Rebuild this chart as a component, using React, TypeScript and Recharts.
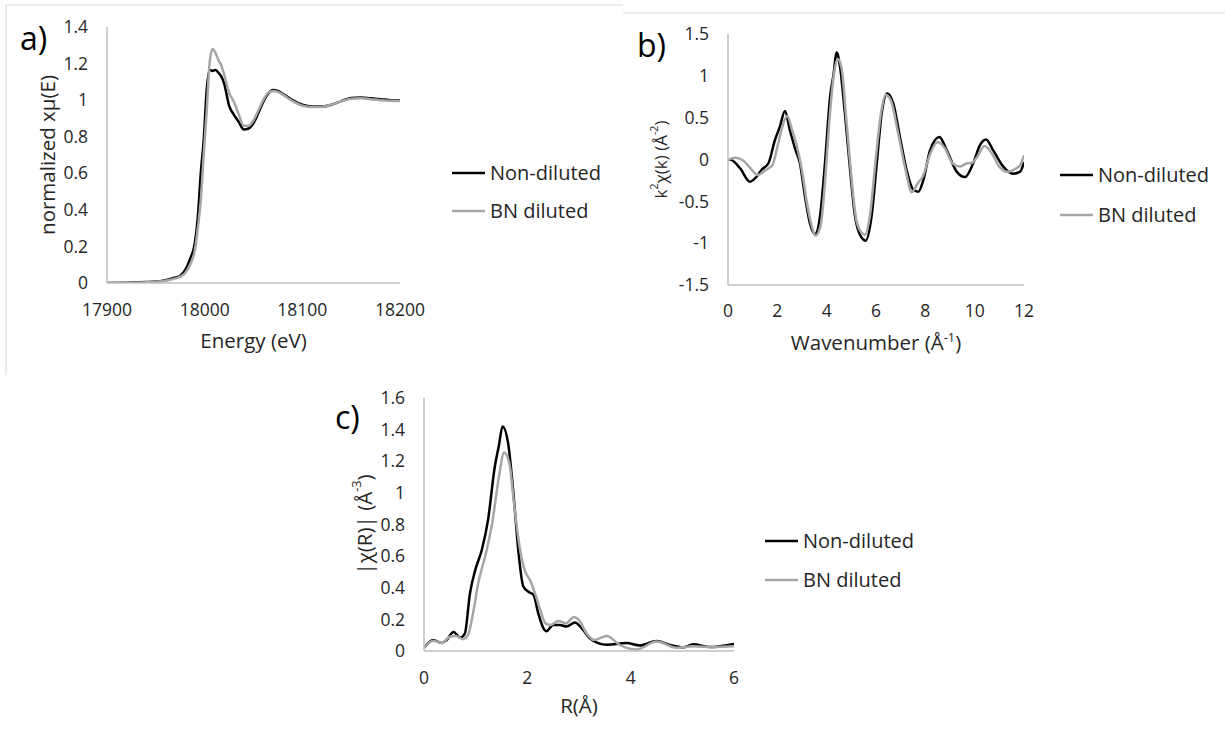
import React from 'react';
import { LineChart, Line, XAxis, YAxis, Label } from 'recharts';

const FONT = "'Open Sans', 'Noto Sans', sans-serif";
const INK = '#262626';
const AXIS = '#bfbfbf';
const FRAME = '#d9d9d9';
const BLACK = '#000000';
const GREY = '#a6a6a6';

// a) XANES, normalized absorption vs energy
const A_ENERGY = [17900, 17920, 17940, 17950, 17960, 17970, 17975, 17980, 17985, 17990, 17993, 17996, 17999, 18002, 18005, 18008, 18011, 18014, 18017, 18020, 18025, 18030, 18035, 18040, 18045, 18050, 18055, 18060, 18065, 18070, 18075, 18080, 18090, 18100, 18110, 18120, 18130, 18140, 18150, 18160, 18170, 18180, 18190, 18200];
const A_NON_DILUTED = [0, 0.002, 0.005, 0.008, 0.015, 0.03, 0.04, 0.07, 0.13, 0.22, 0.36, 0.6, 0.78, 1.05, 1.165, 1.16, 1.165, 1.15, 1.13, 1.09, 0.97, 0.92, 0.88, 0.84, 0.845, 0.875, 0.93, 0.99, 1.035, 1.055, 1.05, 1.035, 1.0, 0.975, 0.965, 0.965, 0.975, 0.995, 1.012, 1.015, 1.01, 1.005, 1.0, 0.998];
const A_BN_DILUTED = [0, 0.001, 0.004, 0.007, 0.012, 0.025, 0.035, 0.055, 0.1, 0.18, 0.3, 0.45, 0.7, 0.93, 1.2, 1.28, 1.26, 1.22, 1.19, 1.14, 1.04, 0.99, 0.92, 0.86, 0.86, 0.89, 0.945, 1.0, 1.04, 1.05, 1.045, 1.03, 0.995, 0.97, 0.962, 0.963, 0.975, 0.995, 1.008, 1.01, 1.005, 1.0, 0.997, 0.995];
const A_X_TICKS = [17900, 18000, 18100, 18200];
const A_Y_TICKS = [0, 0.2, 0.4, 0.6, 0.8, 1, 1.2, 1.4];

// b) EXAFS, k^2 weighted
const B_K_NON = [0, 0.08, 0.49, 0.89, 1.16, 1.37, 1.64, 1.9, 2.1, 2.31, 2.51, 2.72, 2.92, 3.12, 3.32, 3.53, 3.73, 3.93, 4.14, 4.27, 4.41, 4.54, 4.74, 4.95, 5.15, 5.35, 5.58, 5.82, 6.03, 6.23, 6.46, 6.7, 6.97, 7.24, 7.51, 7.72, 7.92, 8.19, 8.57, 8.87, 9.27, 9.61, 9.94, 10.21, 10.46, 10.75, 11.16, 11.56, 11.84, 12];
const B_NON_DILUTED = [0, 0, -0.105, -0.265, -0.205, -0.12, -0.045, 0.23, 0.39, 0.58, 0.35, 0.13, -0.05, -0.44, -0.76, -0.89, -0.68, -0.05, 0.75, 1.0, 1.28, 1.11, 0.55, -0.125, -0.68, -0.9, -0.97, -0.68, -0.05, 0.55, 0.79, 0.67, 0.27, -0.125, -0.36, -0.385, -0.245, 0.11, 0.27, 0.11, -0.145, -0.21, -0.045, 0.17, 0.24, 0.11, -0.085, -0.17, -0.145, -0.03];
const B_K_BN = [0, 0.3, 0.6, 0.9, 1.2, 1.5, 1.8, 2.0, 2.2, 2.4, 2.6, 2.8, 3.0, 3.2, 3.4, 3.55, 3.75, 3.95, 4.1, 4.3, 4.45, 4.6, 4.8, 5.0, 5.2, 5.4, 5.55, 5.75, 6.0, 6.2, 6.4, 6.6, 6.9, 7.2, 7.45, 7.7, 7.9, 8.2, 8.5, 8.8, 9.1, 9.4, 9.7, 9.9, 10.1, 10.4, 10.7, 11.0, 11.3, 11.6, 11.85, 12];
const B_BN_DILUTED = [0, 0.02, -0.01, -0.1, -0.185, -0.13, -0.07, 0.15, 0.39, 0.52, 0.35, 0.15, -0.13, -0.52, -0.8, -0.91, -0.8, -0.2, 0.43, 1.03, 1.2, 1.1, 0.47, -0.2, -0.72, -0.87, -0.9, -0.68, 0.035, 0.55, 0.77, 0.71, 0.31, -0.125, -0.39, -0.28, -0.2, 0.07, 0.21, 0.13, -0.045, -0.085, -0.045, -0.04, 0.03, 0.16, 0.07, -0.085, -0.145, -0.12, -0.065, 0.05];
const B_X_TICKS = [0, 2, 4, 6, 8, 10, 12];
const B_Y_TICKS = [-1.5, -1, -0.5, 0, 0.5, 1, 1.5];

// c) Fourier transform magnitude
const C_R_NON = [0, 0.18, 0.34, 0.44, 0.57, 0.7, 0.79, 0.89, 0.99, 1.12, 1.24, 1.37, 1.45, 1.52, 1.63, 1.73, 1.83, 1.92, 2.02, 2.12, 2.21, 2.31, 2.37, 2.5, 2.63, 2.76, 2.92, 3.05, 3.21, 3.37, 3.54, 3.92, 4.18, 4.5, 4.76, 5.02, 5.21, 5.54, 6];
const C_NON_DILUTED = [0.02, 0.07, 0.05, 0.07, 0.12, 0.085, 0.11, 0.365, 0.51, 0.64, 0.83, 1.165, 1.3, 1.42, 1.31, 1.0, 0.62, 0.41, 0.375, 0.355, 0.24, 0.145, 0.125, 0.165, 0.165, 0.155, 0.18, 0.145, 0.08, 0.05, 0.04, 0.05, 0.035, 0.063, 0.038, 0.023, 0.042, 0.025, 0.045];
const C_R_BN = [0, 0.18, 0.34, 0.5, 0.62, 0.75, 0.85, 0.95, 1.05, 1.2, 1.32, 1.45, 1.55, 1.65, 1.75, 1.85, 1.95, 2.05, 2.15, 2.25, 2.35, 2.45, 2.6, 2.75, 2.9, 3.0, 3.15, 3.3, 3.54, 3.79, 4.12, 4.5, 4.89, 5.21, 5.6, 6];
const C_BN_DILUTED = [0.02, 0.065, 0.05, 0.09, 0.095, 0.075, 0.1, 0.24, 0.43, 0.62, 0.81, 1.1, 1.255, 1.19, 0.91, 0.66, 0.51, 0.45, 0.365, 0.26, 0.175, 0.165, 0.19, 0.175, 0.215, 0.195, 0.11, 0.07, 0.095, 0.038, 0.01, 0.06, 0.02, 0.03, 0.025, 0.03];
const C_X_TICKS = [0, 2, 4, 6];
const C_Y_TICKS = [0, 0.2, 0.4, 0.6, 0.8, 1, 1.2, 1.4, 1.6];

const SERIES_NAMES = ['Non-diluted', 'BN diluted'];

const pts = (xs: number[], ys: number[]) => xs.map((x, i) => ({ x, y: ys[i] }));

type Part = { t: string; sup?: boolean };

const Rich = ({ parts, size }: { parts: Part[]; size: number }) => (
  <>
    {parts.map((p, i) => {
      const prevSup = i > 0 && parts[i - 1].sup;
      const dy = p.sup ? -size * 0.38 : prevSup ? size * 0.38 : 0;
      return (
        <tspan key={i} dy={dy} fontSize={p.sup ? size * 0.62 : size}>
          {p.t}
        </tspan>
      );
    })}
  </>
);

const TITLE_SIZE = 20.5;
const TICK_SIZE = 17.5;

const xTitle = (parts: Part[], offset: number) => (props: any) => {
  const { x, y, width } = props.viewBox;
  return (
    <text x={x + width / 2} y={y + offset} textAnchor="middle" fill={INK} fontFamily={FONT} fontSize={TITLE_SIZE}>
      <Rich parts={parts} size={TITLE_SIZE} />
    </text>
  );
};

const yTitle = (parts: Part[], offset: number, size: number) => (props: any) => {
  const { x, y, width, height } = props.viewBox;
  const cx = x + width - offset;
  const cy = y + height / 2;
  return (
    <text
      x={cx}
      y={cy}
      transform={`rotate(-90 ${cx} ${cy})`}
      textAnchor="middle"
      dominantBaseline="central"
      fill={INK}
      fontFamily={FONT}
      fontSize={size}
    >
      <Rich parts={parts} size={size} />
    </text>
  );
};

type PanelProps = {
  left: number;
  top: number;
  width: number;
  height: number;
  margin: { top: number; right: number; bottom: number; left: number };
  xDomain: [number, number];
  xTicks: number[];
  yDomain: [number, number];
  yTicks: number[];
  non: { x: number; y: number }[];
  bn: { x: number; y: number }[];
  xLabel: Part[];
  yLabel: Part[];
  xTickMargin: number;
  xTitleOffset: number;
  yTitleOffset: number;
  yTitleSize?: number;
};

const Panel = (p: PanelProps) => (
  <div style={{ position: 'absolute', left: p.left, top: p.top }}>
    <LineChart width={p.width} height={p.height} margin={p.margin}>
      <XAxis
        type="number"
        dataKey="x"
        domain={p.xDomain}
        ticks={p.xTicks}
        interval={0}
        allowDataOverflow
        height={40}
        tickLine={false}
        tickMargin={p.xTickMargin}
        axisLine={{ stroke: AXIS, strokeWidth: 1.5 }}
        tick={{ fill: INK, fontSize: TICK_SIZE, fontFamily: FONT }}
      >
        <Label content={xTitle(p.xLabel, p.xTitleOffset)} />
      </XAxis>
      <YAxis
        type="number"
        dataKey="y"
        domain={p.yDomain}
        ticks={p.yTicks}
        interval={0}
        allowDataOverflow
        width={60}
        tickLine={false}
        tickMargin={13}
        axisLine={{ stroke: AXIS, strokeWidth: 1.5 }}
        tick={{ fill: INK, fontSize: TICK_SIZE, fontFamily: FONT }}
      >
        <Label content={yTitle(p.yLabel, p.yTitleOffset, p.yTitleSize ?? TITLE_SIZE)} />
      </YAxis>
      <Line data={p.non} dataKey="y" name={SERIES_NAMES[0]} type="monotone" stroke={BLACK} strokeWidth={2.5} dot={false} isAnimationActive={false} />
      <Line data={p.bn} dataKey="y" name={SERIES_NAMES[1]} type="monotone" stroke={GREY} strokeWidth={2.5} dot={false} isAnimationActive={false} />
    </LineChart>
  </div>
);

const LegendRows = ({ x, y1, y2 }: { x: number; y1: number; y2: number }) => (
  <g fontFamily={FONT} fontSize={20} fill={INK}>
    <line x1={x} x2={x + 33} y1={y1} y2={y1} stroke={BLACK} strokeWidth={2.5} />
    <text x={x + 38} y={y1 + 7}>{SERIES_NAMES[0]}</text>
    <line x1={x} x2={x + 33} y1={y2} y2={y2} stroke={GREY} strokeWidth={2.5} />
    <text x={x + 38} y={y2 + 7}>{SERIES_NAMES[1]}</text>
  </g>
);

export default function App() {
  return (
    <div style={{ position: 'absolute', left: 0, top: 0, width: 1225, height: 729, background: '#fff', overflow: 'hidden' }}>
      <Panel
        left={0}
        top={0}
        width={560}
        height={380}
        margin={{ top: 27, right: 160, bottom: 57, left: 47 }}
        xDomain={[17900, 18200]}
        xTicks={A_X_TICKS}
        yDomain={[0, 1.4]}
        yTicks={A_Y_TICKS}
        non={pts(A_ENERGY, A_NON_DILUTED)}
        bn={pts(A_ENERGY, A_BN_DILUTED)}
        xLabel={[{ t: 'Energy (eV)' }]}
        yLabel={[{ t: 'normalized xμ(E)' }]}
        xTickMargin={15}
        xTitleOffset={65}
        yTitleOffset={60}
      />
      <Panel
        left={560}
        top={0}
        width={665}
        height={380}
        margin={{ top: 34, right: 201, bottom: 55, left: 108 }}
        xDomain={[0, 12]}
        xTicks={B_X_TICKS}
        yDomain={[-1.5, 1.5]}
        yTicks={B_Y_TICKS}
        non={pts(B_K_NON, B_NON_DILUTED)}
        bn={pts(B_K_BN, B_BN_DILUTED)}
        xLabel={[{ t: 'Wavenumber (Å' }, { t: '-1', sup: true }, { t: ')' }]}
        yLabel={[{ t: 'k' }, { t: '2', sup: true }, { t: 'χ(k) (Å' }, { t: '-2', sup: true }, { t: ')' }]}
        xTickMargin={14}
        xTitleOffset={65}
        yTitleOffset={68}
        yTitleSize={17}
      />
      <Panel
        left={300}
        top={370}
        width={600}
        height={359}
        margin={{ top: 28, right: 166, bottom: 38, left: 64 }}
        xDomain={[0, 6]}
        xTicks={C_X_TICKS}
        yDomain={[0, 1.6]}
        yTicks={C_Y_TICKS}
        non={pts(C_R_NON, C_NON_DILUTED)}
        bn={pts(C_R_BN, C_BN_DILUTED)}
        xLabel={[{ t: 'R(Å)' }]}
        yLabel={[{ t: '|χ(R)| (Å' }, { t: '-3', sup: true }, { t: ')' }]}
        xTickMargin={15}
        xTitleOffset={62}
        yTitleOffset={60}
      />
      <svg width={1225} height={729} style={{ position: 'absolute', left: 0, top: 0, pointerEvents: 'none' }}>
        <line x1={6} x2={623} y1={5} y2={5} stroke={FRAME} strokeWidth={1} />
        <line x1={6} x2={6} y1={5} y2={375} stroke={FRAME} strokeWidth={1} />
        <line x1={623} x2={1225} y1={13} y2={13} stroke={FRAME} strokeWidth={1} />
        <g fontFamily={FONT} fontSize={32} fill={BLACK}>
          <text x={20} y={50}>a)</text>
          <text x={637} y={57}>b)</text>
          <text x={335} y={429}>c)</text>
        </g>
        <LegendRows x={452} y1={173} y2={211} />
        <LegendRows x={1060} y1={175} y2={215} />
        <LegendRows x={765} y1={541} y2={580} />
      </svg>
    </div>
  );
}
